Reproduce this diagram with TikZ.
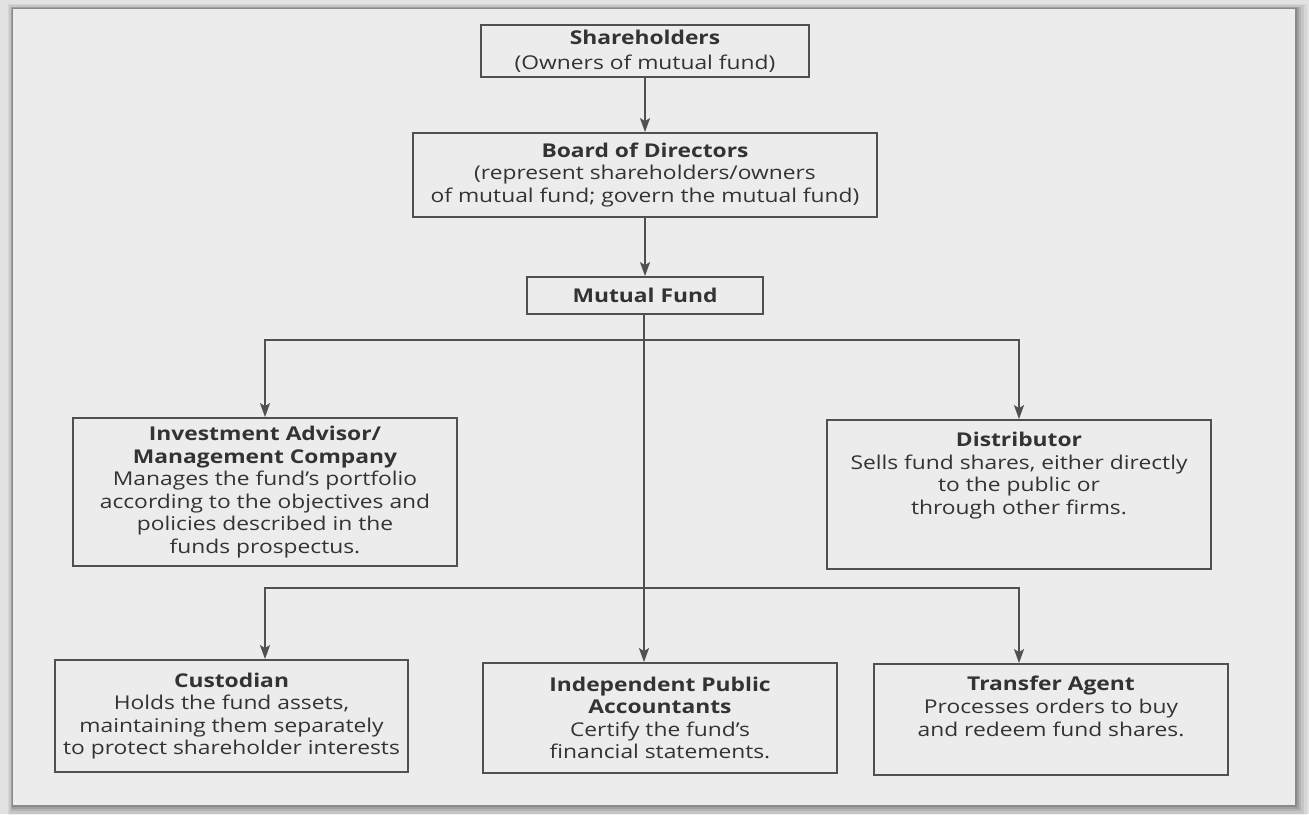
\documentclass[tikz,border=0pt]{standalone}
\usepackage{fontspec}
\setmainfont{Open Sans}[FakeStretch=1.2]
\usetikzlibrary{arrows.meta,calc}
\definecolor{pagebg}{HTML}{ECECEC}
\definecolor{outbg}{HTML}{E2E2E2}
\definecolor{ink}{HTML}{333333}
\definecolor{lin}{HTML}{505050}
\begin{document}
\begin{tikzpicture}[x=1pt,y=-1pt,
  box/.style={draw=lin, line width=1.8pt, inner sep=0pt, align=center, text=ink,
    font=\fontsize{19}{22.6}\selectfont},
  txt/.style={inner sep=0pt, align=center, text=ink, font=\fontsize{19}{22.6}\selectfont},
  arr/.style={draw=lin, line width=1.8pt, -{Stealth[length=14pt,width=10pt,inset=3pt]}},
  conn/.style={draw=lin, line width=1.8pt}]
\useasboundingbox (0,0) rectangle (1309,814);
% page and shadow
\fill[outbg] (0,0) rectangle (1309,814);
\foreach \d/\o in {12/0.05,9/0.07,6/0.09,4/0.11,2/0.14}
  \fill[black, opacity=\o] (13-0.4*\d,9-0.4*\d) rectangle (1295+\d,805+\d);
\fill[pagebg] (13,9) rectangle (1295,805);

% boxes
\node (sh) [box, minimum width=328pt, minimum height=52pt, font=\fontsize{19}{25}\selectfont] at (645,51)
  {\textbf{Shareholders}\\(Owners of mutual fund)};
\node (bod) [box, minimum width=464pt, minimum height=84pt] at (645,175)
  {\textbf{Board of Directors}\\(represent shareholders/owners\\of mutual fund; govern the mutual fund)};
\node (mf) [box, minimum width=236pt, minimum height=37pt] at (645,295.5)
  {\textbf{Mutual Fund}};
\node (inv) [box, minimum width=384pt, minimum height=148pt] at (265,492)
  {\textbf{Investment Advisor/}\\\textbf{Management Company}\\Manages the fund’s portfolio\\according to the objectives and\\policies described in the\\funds prospectus.};
\node (dist) [box, minimum width=384pt, minimum height=149pt] at (1019,494.5) {};
\node (distt) [txt, anchor=north] at ([yshift=-13pt]dist.north)
  {\textbf{Distributor}\\Sells fund shares, either directly\\to the public or\\through other firms.};
\node (cust) [box, minimum width=353pt, minimum height=112pt] at (231.5,716)
  {\textbf{Custodian}\\Holds the fund assets,\\maintaining them separately\\to protect shareholder interests};
\node (ipa) [box, minimum width=354pt, minimum height=110pt] at (660,718)
  {\textbf{Independent Public}\\\textbf{Accountants}\\Certify the fund’s\\financial statements.};
\node (ta) [box, minimum width=354pt, minimum height=111pt] at (1051,719.5) {};
\node (tat) [txt, anchor=north] at ([yshift=-13pt]ta.north)
  {\textbf{Transfer Agent}\\Processes orders to buy\\and redeem fund shares.};

% connectors
\draw[arr] (sh.south) -- (bod.north);
\draw[arr] (bod.south) -- (mf.north);
\coordinate (j1) at (644,340);
\coordinate (j2) at (644,588);
\draw[arr] (mf.south -| j1) -- (ipa.north -| j1);
\draw[arr] (j1) -| (inv.north);
\draw[arr] (j1) -| (dist.north);
\draw[arr] (j2) -| (cust.north -| inv.north);
\draw[arr] (j2) -| (ta.north -| dist.north);
\end{tikzpicture}
\end{document}
